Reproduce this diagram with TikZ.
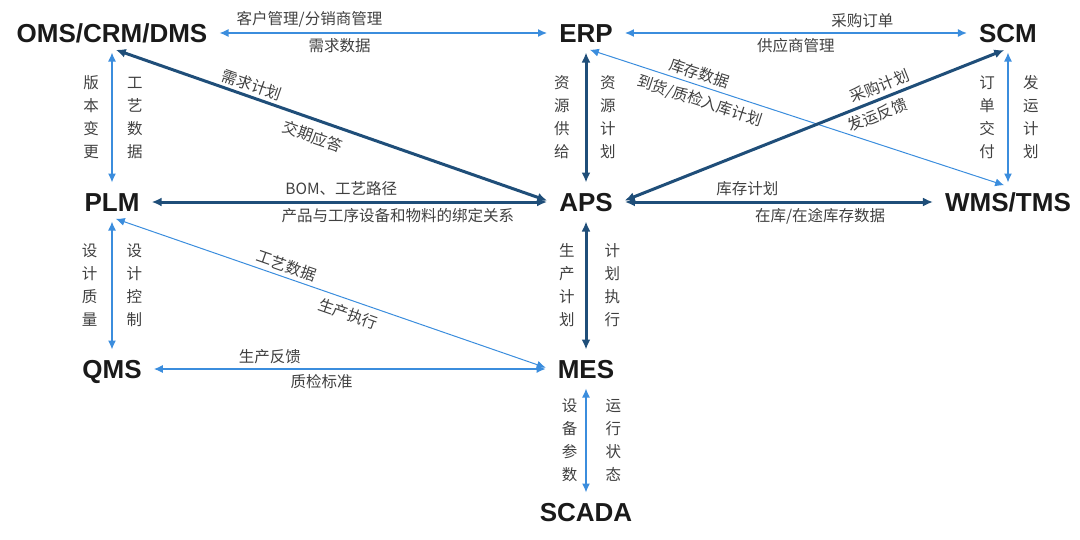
\documentclass[tikz,border=0pt]{standalone}
\usepackage{fontspec}
\setmainfont{Liberation Sans}
\newfontfamily\cjk{Noto Sans CJK SC}
\usetikzlibrary{arrows.meta,positioning}
\definecolor{linkdark}{HTML}{1F4E79}
\definecolor{linklight}{HTML}{3B8DDD}
\definecolor{labeltext}{HTML}{404040}
\definecolor{systext}{HTML}{1A1A1A}

\tikzset{
  sys/.style={font=\bfseries\fontsize{26}{26}\selectfont, text=systext,
    text height=18.6pt, text depth=0pt, inner xsep=8pt, inner ysep=6pt},
  lightlink/.style={{Latex[length=9pt,width=8pt]}-{Latex[length=9pt,width=8pt]},
    draw=linklight, line width=1.3pt, shorten <=4pt, shorten >=4pt},
  thinlink/.style={lightlink, line width=1pt},
  darklink/.style={{Latex[length=10pt,width=9pt]}-{Latex[length=10pt,width=9pt]},
    draw=linkdark, line width=3pt, shorten <=4pt, shorten >=4pt},
  lbl/.style={font=\cjk\fontsize{15.5}{15.5}\selectfont, text=labeltext, inner sep=2pt},
  vlbl/.style={font=\cjk\fontsize{15.5}{23}\selectfont, text=labeltext,
    align=center, inner sep=0pt},
}

\begin{document}
\begin{tikzpicture}[x=1pt, y=-1pt]
  \useasboundingbox (0,0) rectangle (1080,539);

  % Systems
  \node[sys] (oms)   at (112,33)   {OMS/CRM/DMS};
  \node[sys] (erp)   at (586,33)   {ERP};
  \node[sys] (scm)   at (1008,33)  {SCM};
  \node[sys] (plm)   at (112,202)  {PLM};
  \node[sys] (aps)   at (586,202)  {APS};
  \node[sys] (wms)   at (1008,202) {WMS/TMS};
  \node[sys] (qms)   at (112,369)  {QMS};
  \node[sys] (mes)   at (586,369)  {MES};
  \node[sys] (scada) at (586,512)  {SCADA};

  % Top row
  \draw[lightlink] (oms) -- (erp)
    node[lbl, pos=.28, above=3pt] {客户管理/分销商管理}
    node[lbl, pos=.37, below=3pt] {需求数据};
  \draw[lightlink] (erp) -- (scm)
    node[lbl, pos=.69, above=3pt] {采购订单}
    node[lbl, pos=.50, below=3pt] {供应商管理};

  % Middle row
  \draw[darklink] (plm) -- (aps)
    node[lbl, pos=.48, above=3pt] {BOM、工艺路径}
    node[lbl, pos=.62, below=3pt] {产品与工序设备和物料的绑定关系};
  \draw[darklink] (aps) -- (wms)
    node[lbl, pos=.40, above=3pt] {库存计划}
    node[lbl, pos=.63, below=3pt] {在库/在途库存数据};

  % Bottom row
  \draw[lightlink] (qms) -- (mes)
    node[lbl, pos=.30, above=3pt] {生产反馈}
    node[lbl, pos=.43, below=3pt] {质检标准};

  % Diagonals
  \draw[darklink] (oms.south) -- (aps.west)
    node[lbl, pos=.31, sloped, above=1pt] {需求计划}
    node[lbl, pos=.47, sloped, below=6pt] {交期应答};
  \draw[thinlink] (erp.south) -- (wms.north)
    node[lbl, pos=.26, sloped, above=2pt] {库存数据}
    node[lbl, pos=.28, sloped, below=4pt] {到货/质检入库计划};
  \draw[darklink] (aps.east) -- (scm.south)
    node[lbl, pos=.68, sloped, above=2pt] {采购计划}
    node[lbl, pos=.65, sloped, below=3pt] {发运反馈};
  \draw[thinlink] (plm.south) -- (mes.west)
    node[lbl, pos=.39, sloped, above=2pt] {工艺数据}
    node[lbl, pos=.55, sloped, below=4pt] {生产执行};

  % Verticals
  \draw[lightlink] (oms) -- (plm)
    node[vlbl, midway, left=12.5pt] {版\\本\\变\\更}
    node[vlbl, midway, right=14.5pt] {工\\艺\\数\\据};
  \draw[lightlink] (plm) -- (qms)
    node[vlbl, midway, left=14pt] {设\\计\\质\\量}
    node[vlbl, midway, right=14pt] {设\\计\\控\\制};
  \draw[darklink] (erp) -- (aps)
    node[vlbl, midway, left=15pt] {资\\源\\供\\给}
    node[vlbl, midway, right=12.5pt] {资\\源\\计\\划};
  \draw[darklink] (aps) -- (mes)
    node[vlbl, midway, left=10pt] {生\\产\\计\\划}
    node[vlbl, midway, right=17pt] {计\\划\\执\\行};
  \draw[lightlink] (mes) -- (scada)
    node[vlbl, midway, left=8pt] {设\\备\\参\\数}
    node[vlbl, midway, right=19pt] {运\\行\\状\\态};
  \draw[lightlink] (scm) -- (wms)
    node[vlbl, midway, left=12.5pt] {订\\单\\交\\付}
    node[vlbl, midway, right=14.5pt] {发\\运\\计\\划};
\end{tikzpicture}
\end{document}
